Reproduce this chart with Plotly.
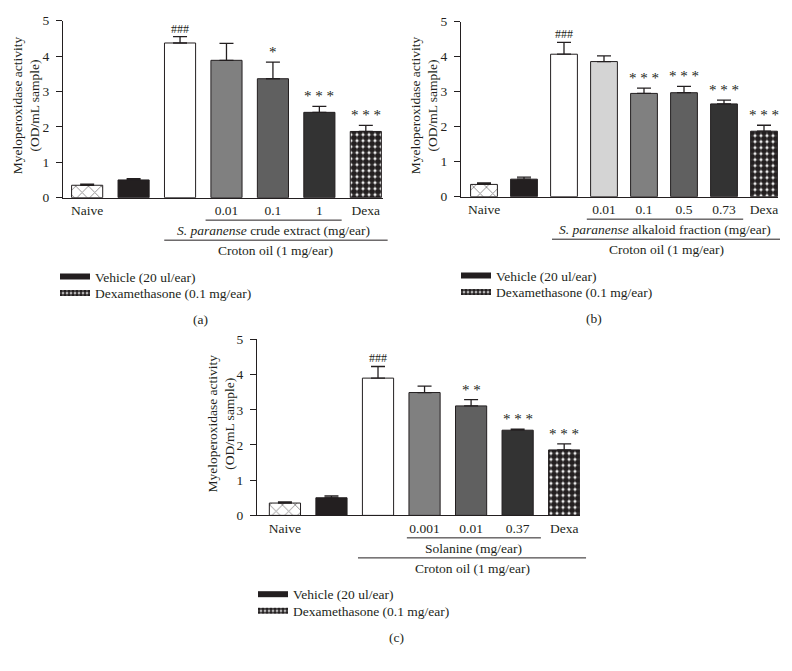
import plotly.graph_objects as go

# Panel (a): S. paranense crude extract
ticks_a = ["Naive", "", "", "0.01", "0.1", "1", "Dexa"]
mpo_a = [0.35, 0.50, 4.37, 3.88, 3.36, 2.41, 1.87]
sem_a = [0.03, 0.04, 0.18, 0.48, 0.47, 0.17, 0.17]
sig_a = ["", "", "###", "", "*", "* * *", "* * *"]

# Panel (b): S. paranense alkaloid fraction
ticks_b = ["Naive", "", "", "0.01", "0.1", "0.5", "0.73", "Dexa"]
mpo_b = [0.35, 0.50, 4.07, 3.86, 2.95, 2.97, 2.65, 1.87]
sem_b = [0.04, 0.06, 0.34, 0.16, 0.15, 0.18, 0.11, 0.17]
sig_b = ["", "", "###", "", "* * *", "* * *", "* * *", "* * *"]

# Panel (c): solanine
ticks_c = ["Naive", "", "", "0.001", "0.01", "0.37", "Dexa"]
mpo_c = [0.35, 0.50, 3.90, 3.49, 3.11, 2.42, 1.86]
sem_c = [0.03, 0.05, 0.33, 0.18, 0.18, 0.03, 0.17]
sig_c = ["", "", "###", "", "* *", "* * *", "* * *"]

legend_names = ["Vehicle (20 ul/ear)", "Dexamethasone (0.1 mg/ear)"]

W, H = 792, 671
FONT = "Liberation Serif"
INK = "#231f20"
NAIVE_PATTERN = dict(shape="x", fgcolor=INK, bgcolor="white", size=9, solidity=0.2)
DEXA_PATTERN = dict(shape=".", fgcolor=INK, bgcolor="white", fgopacity=1, size=6, solidity=0.78)

panels = [
    dict(ticks=ticks_a, mpo=mpo_a, sem=sem_a, sig=sig_a, grays=["#808080", "#606060", "#333333"],
         xa="x", ya="y", lg=["legend", "legend2"], xpx=[63, 383], ypx=[14, 195], xr=[-0.52, 6.37],
         sub="<i>S. paranense</i> crude extract (mg/ear)", sub_span=[2.55, 5.48], croton_span=[1.66, 6.47],
         title_x=26, legend_x=95, tag="(a)", tag_x=200),
    dict(ticks=ticks_b, mpo=mpo_b, sem=sem_b, sig=sig_b,
         grays=["#d4d4d4", "#808080", "#606060", "#333333"],
         xa="x2", ya="y2", lg=["legend3", "legend4"], xpx=[461, 778], ypx=[15, 194], xr=[-0.575, 7.35],
         sub="<i>S. paranense</i> alkaloid fraction (mg/ear)", sub_span=[2.57, 6.48], croton_span=[1.7, 7.4],
         title_x=424, legend_x=496, tag="(b)", tag_x=594),
    dict(ticks=ticks_c, mpo=mpo_c, sem=sem_c, sig=sig_c, grays=["#808080", "#606060", "#333333"],
         xa="x3", ya="y3", lg=["legend5", "legend6"], xpx=[257, 580], ypx=[340, 520], xr=[-0.6, 6.34],
         sub="Solanine (mg/ear)", sub_span=[2.62, 5.5], croton_span=[1.57, 6.47],
         title_x=221, legend_x=293, tag="(c)", tag_x=396),
]


def to_paper_x(v, p):
    frac = (v - p["xr"][0]) / (p["xr"][1] - p["xr"][0])
    return (p["xpx"][0] + frac * (p["xpx"][1] - p["xpx"][0])) / W


def to_paper_y(px):
    return 1 - px / H


def label(x, y, text, size=13.5, **kw):
    return dict(x=x, y=y, xref="paper", yref="paper", text=text, showarrow=False,
                xanchor="center", yanchor="middle", font=dict(family=FONT, size=size, color=INK), **kw)


def bar(p, idx, fill, pattern=None):
    return go.Bar(
        x=idx, y=[p["mpo"][i] for i in idx],
        width=0.67,
        marker=dict(color=fill, line=dict(color=INK, width=1),
                    pattern=pattern if pattern else dict(shape="")),
        error_y=dict(type="data", symmetric=False,
                     array=[p["sem"][i] for i in idx], arrayminus=[0] * len(idx),
                     color=INK, thickness=1.3, width=7),
        showlegend=False, xaxis=p["xa"], yaxis=p["ya"], hoverinfo="skip",
    )


fig = go.Figure()
annotations = []
shapes = []
layout = {}

for p in panels:
    n = len(p["ticks"])
    # bars: naive, vehicle, croton + doses, dexa
    fig.add_trace(bar(p, [0], "white", NAIVE_PATTERN))
    fig.add_trace(bar(p, [1], INK))
    fig.add_trace(bar(p, list(range(2, n - 1)), ["white"] + p["grays"]))
    fig.add_trace(bar(p, [n - 1], "white", DEXA_PATTERN))

    # legend-only entries (fill swatch gives the wide rectangle)
    for k, name in enumerate(legend_names):
        fig.add_trace(go.Scatter(
            x=[None], y=[None], mode="none", fill="toself", name=name,
            fillcolor=INK if k == 0 else "white",
            fillpattern=dict(shape="") if k == 0 else dict(shape=".", fgcolor=INK, bgcolor="white",
                                                             fgopacity=1, size=4, solidity=0.78),
            legend=p["lg"][k], xaxis=p["xa"], yaxis=p["ya"], showlegend=True,
        ))
        layout[p["lg"][k]] = dict(x=(p["legend_x"] - 40) / W, y=to_paper_y(p["ypx"][1] + 65 + 17 * k),
                                  xanchor="left", yanchor="top",
                                  font=dict(family=FONT, size=13.5, color=INK), bgcolor="rgba(0,0,0,0)")

    xkey = "xaxis" + p["xa"][1:]
    ykey = "yaxis" + p["ya"][1:]
    layout[xkey] = dict(
        domain=[p["xpx"][0] / W, p["xpx"][1] / W], range=p["xr"], anchor=p["ya"],
        tickvals=list(range(n)), ticktext=p["ticks"], ticks="",
        showline=True, linecolor=INK, linewidth=1.2, showgrid=False, zeroline=False,
        tickfont=dict(family=FONT, size=13.5, color=INK),
    )
    layout[ykey] = dict(
        domain=[to_paper_y(p["ypx"][1]), to_paper_y(p["ypx"][0])], range=[0, 5], anchor=p["xa"],
        dtick=1, ticks="outside", ticklen=6, tickwidth=1.2, tickcolor=INK, ticklabelstandoff=4,
        showline=True, linecolor=INK, linewidth=1.2, showgrid=False, zeroline=False,
        tickfont=dict(family=FONT, size=13.5, color=INK),
    )

    # significance marks
    for i, s in enumerate(p["sig"]):
        if s:
            annotations.append(dict(x=i, y=p["mpo"][i] + p["sem"][i], xref=p["xa"], yref=p["ya"],
                                    text=s, showarrow=False, xanchor="center", yanchor="bottom",
                                    yshift=-1 if "#" in s else 0,
                                    font=dict(family=FONT, size=12 if "#" in s else 15, color=INK)))

    bottom = p["ypx"][1]
    mid = (p["ypx"][0] + p["ypx"][1]) / 2
    annotations.append(label(p["title_x"] / W, to_paper_y(mid - 4),
                             "Myeloperoxidase activity<br>(OD/mL sample)", textangle=-90))

    # treatment brackets
    for span, text, dy in [(p["sub_span"], p["sub"], 23), (p["croton_span"], "Croton oil (1 mg/ear)", 43.5)]:
        x0, x1 = to_paper_x(span[0], p), to_paper_x(span[1], p)
        shapes.append(dict(type="line", xref="paper", yref="paper", x0=x0, x1=x1,
                           y0=to_paper_y(bottom + dy), y1=to_paper_y(bottom + dy),
                           line=dict(color=INK, width=1)))
        annotations.append(label((x0 + x1) / 2, to_paper_y(bottom + dy + 11), text))

    annotations.append(label(p["tag_x"] / W, to_paper_y(bottom + 125), p["tag"]))

fig.update_layout(
    width=W, height=H, margin=dict(l=0, r=0, t=0, b=0),
    paper_bgcolor="white", plot_bgcolor="white",
    barmode="overlay", annotations=annotations, shapes=shapes,
    font=dict(family=FONT, color=INK),
    **layout,
)

fig.write_html("out.html", config={"displayModeBar": False},
               post_script="document.body.style.margin = '0';")
